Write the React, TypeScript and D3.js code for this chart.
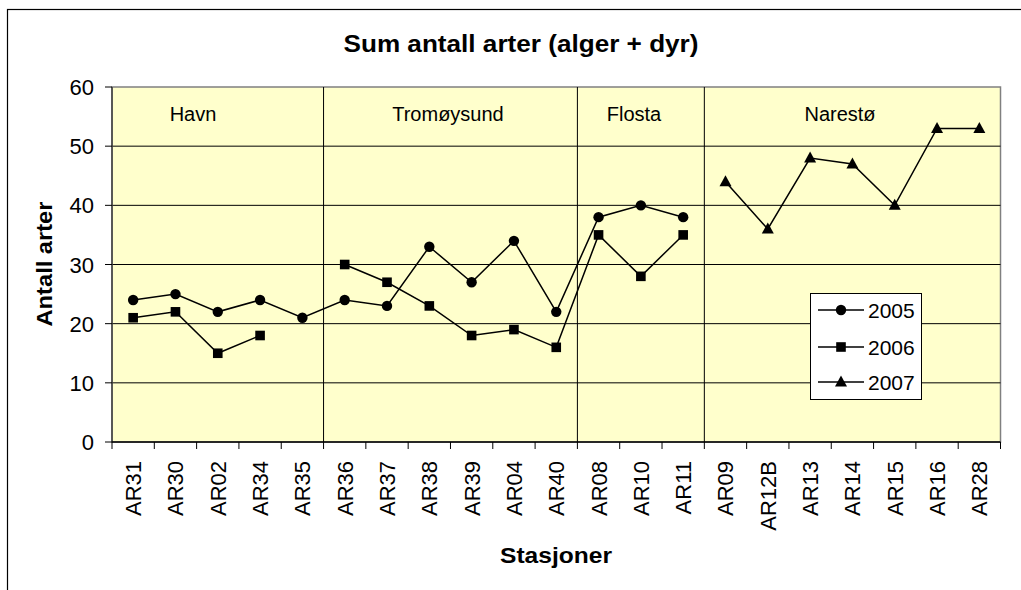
import React from "react";
import * as d3 from "d3";

const stations = ["AR31","AR30","AR02","AR34","AR35","AR36","AR37","AR38","AR39","AR04","AR40","AR08","AR10","AR11","AR09","AR12B","AR13","AR14","AR15","AR16","AR28"];
const s2005: (number|null)[] = [24,25,22,24,21,24,23,33,27,34,22,38,40,38,null,null,null,null,null,null,null];
const s2006: (number|null)[] = [21,22,15,18,null,30,27,23,18,19,16,35,28,35,null,null,null,null,null,null,null];
const s2007: (number|null)[] = [null,null,null,null,null,null,null,null,null,null,null,null,null,null,44,36,48,47,40,53,53];
const seriesNames = ["2005","2006","2007"];
const yTicks = [0,10,20,30,40,50,60];
const groups = [
  { name: "Havn", start: 0, end: 5, labelX: 193 },
  { name: "Tromøysund", start: 5, end: 11, labelX: 448 },
  { name: "Flosta", start: 11, end: 14, labelX: 634 },
  { name: "Narestø", start: 14, end: 21, labelX: 840 },
];

const FONT = "'Liberation Sans', Arial, Helvetica, sans-serif";

const L = 112, R = 1000.5, T = 87, B = 442;

function Marker({ kind, x, y }: { kind: number; x: number; y: number }) {
  if (kind === 0) return <circle cx={x} cy={y} r={5.2} fill="#000" />;
  if (kind === 1) return <rect x={x - 4.8} y={y - 4.8} width={9.6} height={9.6} fill="#000" />;
  return <path d={`M${x},${y - 6.5}L${x + 6},${y + 4.5}L${x - 6},${y + 4.5}Z`} fill="#000" />;
}

export default function App() {
  const x = d3.scaleBand<string>().domain(stations).range([L, R]).paddingInner(0).paddingOuter(0);
  const y = d3.scaleLinear().domain([0, 60]).range([B, T]);
  const bw = x.bandwidth();
  const cx = (i: number) => (x(stations[i]) as number) + bw / 2;
  const all = [s2005, s2006, s2007];
  const line = d3.line<number | null>()
    .defined((d) => d != null)
    .x((_, i) => cx(i))
    .y((d) => y(d as number));

  const legendY = [310, 347, 382];

  return (
    <svg width={1021} height={590} style={{ position: "absolute", left: 0, top: 0, background: "#fff" }} fontFamily={FONT}>
      <rect x={0} y={0} width={1021} height={590} fill="#fff" />
      <rect x={7.5} y={9.5} width={1100} height={700} fill="none" stroke="#000" strokeWidth={1.2} />
      <text x={521} y={52} textAnchor="middle" fontSize={23} fontWeight="bold" textLength={355} lengthAdjust="spacingAndGlyphs">Sum antall arter (alger + dyr)</text>

      {/* plot area */}
      <rect x={L} y={T} width={R - L} height={B - T} fill="#FFFFCC" stroke="#808080" strokeWidth={1.5} />
      {yTicks.filter((t) => t > 0 && t < 60).map((t) => (
        <line key={t} x1={L} x2={R} y1={y(t)} y2={y(t)} stroke="#000" strokeWidth={1} />
      ))}
      {groups.slice(1).map((g) => (
        <line key={g.name} x1={x(stations[g.start]) as number} x2={x(stations[g.start]) as number} y1={T} y2={B} stroke="#000" strokeWidth={1} />
      ))}
      {/* y axis */}
      <line x1={L} x2={L} y1={T} y2={B} stroke="#404040" strokeWidth={1.5} />
      {yTicks.map((t) => (
        <g key={t}>
          <line x1={L - 7} x2={L} y1={y(t)} y2={y(t)} stroke="#000" strokeWidth={1} />
          <text x={94} y={y(t) + 8} textAnchor="end" fontSize={22}>{t}</text>
        </g>
      ))}
      {/* x axis */}
      <line x1={L} x2={R} y1={B} y2={B} stroke="#000" strokeWidth={1.5} />
      {d3.range(stations.length + 1).map((i) => {
        const xx = i < stations.length ? (x(stations[i]) as number) : R;
        return <line key={i} x1={xx} x2={xx} y1={B} y2={B + 7} stroke="#000" strokeWidth={1} />;
      })}
      {stations.map((s, i) => (
        <text key={s} transform={`translate(${cx(i) + 8},${461}) rotate(-90)`} textAnchor="end" fontSize={22}>{s}</text>
      ))}

      {groups.map((g) => (
        <text key={g.name} x={g.labelX} y={121} textAnchor="middle" fontSize={20}>{g.name}</text>
      ))}

      {all.map((s, k) => (
        <g key={k}>
          <path d={line(s) || ""} fill="none" stroke="#000" strokeWidth={1.5} />
          {s.map((v, i) => (v == null ? null : <Marker key={i} kind={k} x={cx(i)} y={y(v)} />))}
        </g>
      ))}

      {/* axis titles */}
      <text transform={`translate(52,264) rotate(-90)`} textAnchor="middle" fontSize={22.5} fontWeight="bold" textLength={125} lengthAdjust="spacingAndGlyphs">Antall arter</text>
      <text x={556} y={563} textAnchor="middle" fontSize={22.5} fontWeight="bold" textLength={112} lengthAdjust="spacingAndGlyphs">Stasjoner</text>

      {/* legend */}
      <rect x={810.5} y={293.5} width={111} height={106} fill="#fff" stroke="#000" strokeWidth={1} />
      {seriesNames.map((n, k) => (
        <g key={n}>
          <line x1={818} x2={864} y1={legendY[k]} y2={legendY[k]} stroke="#000" strokeWidth={1.5} />
          <Marker kind={k} x={841} y={legendY[k]} />
          <text x={868} y={legendY[k] + 8} fontSize={21}>{n}</text>
        </g>
      ))}
    </svg>
  );
}
